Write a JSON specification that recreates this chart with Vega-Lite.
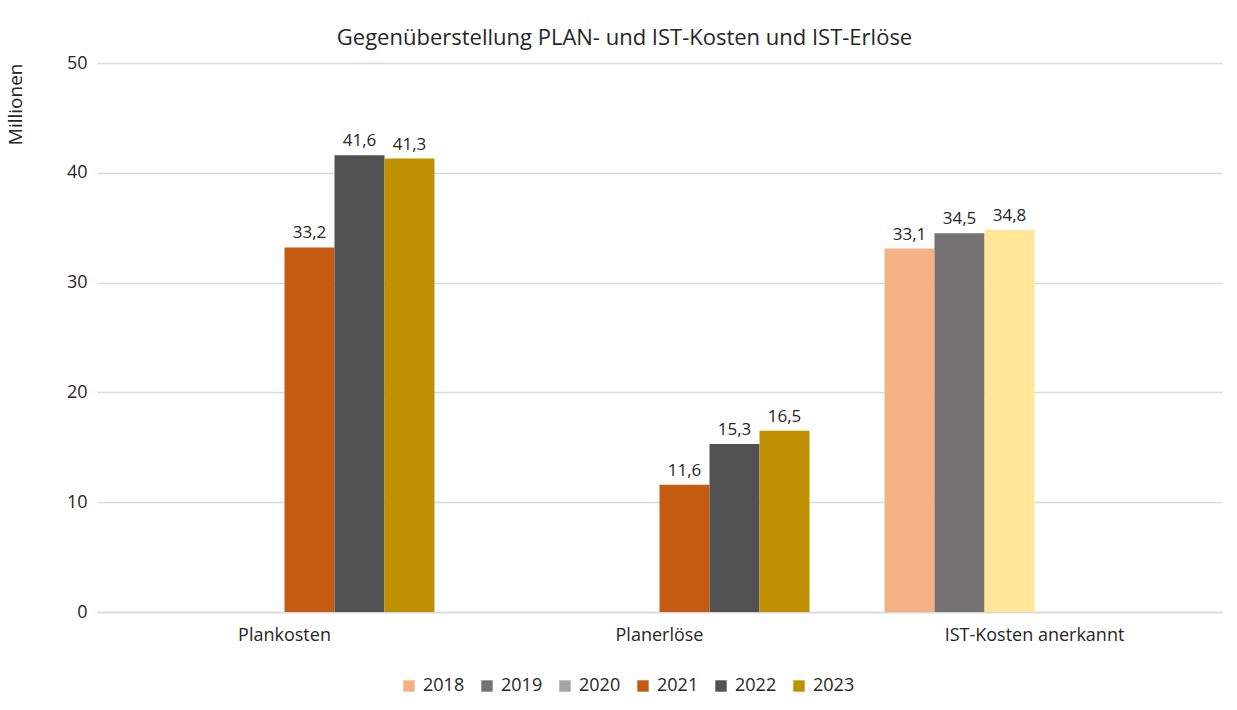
{
  "$schema": "https://vega.github.io/schema/vega-lite/v6.json",
  "autosize": {"type": "none"},
  "width": 1125,
  "height": 549,
  "padding": {"left": 97, "top": 63, "right": 15, "bottom": 98},
  "background": "white",
  "config": {
    "font": "Open Sans",
    "view": {"stroke": null},
    "locale": {"number": {"decimal": ",", "thousands": ".", "grouping": [3], "currency": ["", " €"]}}
  },
  "title": {
    "text": "Gegenüberstellung PLAN- und IST-Kosten und IST-Erlöse",
    "anchor": "middle",
    "frame": "group",
    "dx": -35,
    "offset": 4,
    "fontSize": 22,
    "fontWeight": "normal",
    "color": "#262626",
    "font": "Open Sans"
  },
  "data": {
    "values": [
      {"kategorie": "Plankosten", "jahr": "2021", "wert": 33.2},
      {"kategorie": "Plankosten", "jahr": "2022", "wert": 41.6},
      {"kategorie": "Plankosten", "jahr": "2023", "wert": 41.3},
      {"kategorie": "Planerlöse", "jahr": "2021", "wert": 11.6},
      {"kategorie": "Planerlöse", "jahr": "2022", "wert": 15.3},
      {"kategorie": "Planerlöse", "jahr": "2023", "wert": 16.5},
      {"kategorie": "IST-Kosten anerkannt", "jahr": "2018", "wert": 33.1},
      {"kategorie": "IST-Kosten anerkannt", "jahr": "2019", "wert": 34.5},
      {"kategorie": "IST-Kosten anerkannt", "jahr": "2020", "wert": 34.8}
    ]
  },
  "encoding": {
    "x": {
      "field": "kategorie",
      "type": "nominal",
      "sort": ["Plankosten", "Planerlöse", "IST-Kosten anerkannt"],
      "scale": {"paddingInner": 0.2, "paddingOuter": 0.1},
      "axis": {
        "title": null,
        "labelAngle": 0,
        "labelFontSize": 18,
        "labelColor": "#262626",
        "labelPadding": 14,
        "ticks": false,
        "domainColor": "#d9d9d9",
        "domainWidth": 1.5
      }
    },
    "xOffset": {
      "field": "jahr",
      "type": "nominal",
      "scale": {"domain": ["2018", "2019", "2020", "2021", "2022", "2023"], "paddingInner": 0, "paddingOuter": 0}
    },
    "y": {
      "field": "wert",
      "type": "quantitative",
      "scale": {"domain": [0, 50]},
      "axis": {
        "title": "Millionen",
        "titleFontSize": 19,
        "titleFontWeight": "normal",
        "titleColor": "#262626",
        "titleAngle": -90,
        "titleAlign": "right",
        "titleBaseline": "middle",
        "titleX": -82,
        "titleY": 0,
        "values": [0, 10, 20, 30, 40, 50],
        "format": ",.0f",
        "labelFontSize": 18,
        "labelColor": "#262626",
        "labelPadding": 10,
        "domain": false,
        "ticks": false,
        "gridColor": "#d9d9d9",
        "gridWidth": 1.5
      }
    }
  },
  "layer": [
    {
      "mark": {"type": "bar"},
      "encoding": {
        "color": {
          "condition": {"test": "datum.kategorie === 'IST-Kosten anerkannt' && datum.jahr === '2020'", "value": "#FFE699"},
          "field": "jahr",
          "type": "nominal",
          "scale": {
            "domain": ["2018", "2019", "2020", "2021", "2022", "2023"],
            "range": ["#F4B183", "#767171", "#A5A5A5", "#C55A11", "#525252", "#BF9000"]
          },
          "legend": {
            "title": null,
            "orient": "none",
            "direction": "horizontal",
            "legendX": 303,
            "legendY": 614,
            "columns": 6,
            "symbolType": "square",
            "symbolSize": 130,
            "symbolStrokeWidth": 0,
            "labelFontSize": 18,
            "labelColor": "#262626",
            "labelOffset": 5,
            "columnPadding": 13
          }
        }
      }
    },
    {
      "mark": {"type": "text", "dy": -14, "fontSize": 17, "color": "#262626"},
      "encoding": {
        "text": {"field": "wert", "type": "quantitative", "format": ",.1f"}
      }
    }
  ]
}
